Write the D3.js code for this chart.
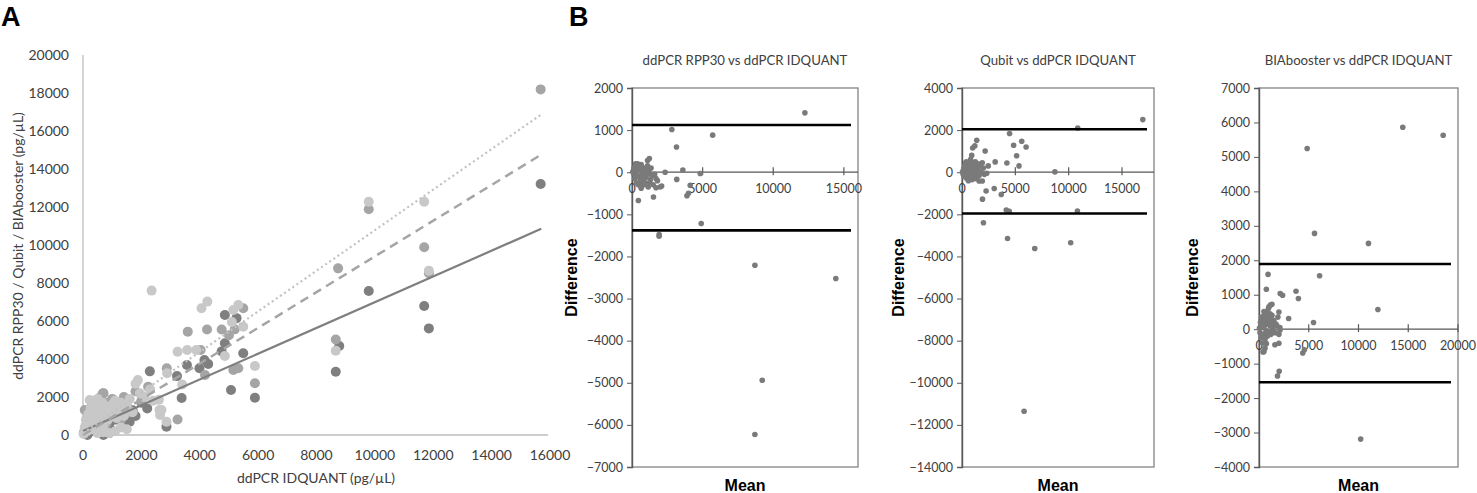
<!DOCTYPE html>
<html>
<head>
<meta charset="utf-8">
<script src="https://cdn.jsdelivr.net/npm/d3@7"></script>
<style>
  body { margin: 0; background: #fff; }
  svg { display: block; }
  .tick-lbl { font-family: Lato, "Open Sans", sans-serif; fill: #404040; }
</style>
</head>
<body>
<svg id="chart" width="1477" height="493"></svg>
<script>
// ---- Panel A data: [ddPCR IDQUANT, other method] (pg/uL) ----
const rpp30Pts = [
  [30,100],[80,300],[120,50],[180,400],[220,150],[280,600],[350,250],[400,800],[450,300],[500,1000],
  [550,500],[600,200],[650,1200],[700,700],[750,400],[800,1500],[850,900],[900,600],[950,300],[1000,1100],
  [1100,800],[1200,1400],[1300,900],[1400,500],[1500,1200],[1600,700],[1700,1300],[1800,1000],[2000,1700],
  [2200,1400],[690,2190],[200,1200],[400,1400],[600,1700],[150,0],[700,0],[900,100],
  [2290,3350],[3220,3100],[3380,1950],[2860,440],[3560,3680],[4160,3950],[4290,3740],[3990,3510],
  [4750,4400],[4860,4830],[5260,6150],[5490,4300],[5070,2370],[5890,1960],[4860,6320],
  [9790,7580],[11690,6790],[11850,5610],[8780,4680],[8660,3330],[15680,13210]
];
const qubitPts = [
  [50,200],[100,500],[150,900],[200,1300],[250,300],[300,1500],[350,700],[400,1000],[450,1800],[500,400],
  [550,1200],[600,2000],[650,800],[700,2200],[750,1400],[800,600],[850,1700],[900,1000],[1000,1900],
  [1100,1300],[1200,1600],[1300,800],[1400,2000],[1500,1500],[1600,1200],[1800,2300],[2000,1800],
  [2230,2540],[60,1320],[3240,820],[2870,3510],
  [4030,4470],[4180,3160],[5150,3420],[5320,3510],[5890,2720],[3590,5440],[4250,5550],[4750,5550],
  [5200,5560],[5000,5250],[5490,6670],[8740,8770],[8660,5030],[9790,11880],[11690,9880],[11850,8510],
  [15680,18190]
];
const biaPts = [
  [20,50],[60,400],[100,800],[140,200],[180,1100],[220,600],[230,1840],[260,1400],[300,300],[340,900],
  [380,1600],[420,500],[460,1200],[500,1900],[540,700],[580,1300],[620,1000],[660,1700],[700,500],
  [750,1100],[800,1500],[850,800],[900,1300],[950,1000],[1000,1600],[1050,1200],[1100,1800],[1150,900],
  [1200,1500],[1250,1100],[1300,1700],[1350,1300],[1400,1000],[1500,1600],[1600,1900],[1700,1200],
  [1800,2700],[1880,2890],[1950,2200],[2100,2000],[2300,2400],[2400,1800],[2600,1850],[2620,1320],
  [2640,1050],[2690,1320],[2860,700],[2880,3250],[3400,2660],[1500,300],[1300,400],[1100,200],
  [900,100],[700,150],[500,100],
  [2350,7600],[4060,6670],[4260,7020],[5320,6840],[5150,6580],[5100,5950],[5490,5700],[3240,4380],
  [3570,4470],[3880,4470],[4860,4160],[5890,3630],[8660,4440],[9790,12280],[11690,12280],[11850,8650]
];
// linear trend lines: [slope, intercept, xStart, xEnd]
const trendRpp30 = [0.678, 210, 0, 15700];
const trendQubit = [0.94, 0, 0, 15700];
const trendBia = [1.068, 100, 0, 15700];
const aTicksX = [0, 2000, 4000, 6000, 8000, 10000, 12000, 14000, 16000];
const aTicksY = [0, 2000, 4000, 6000, 8000, 10000, 12000, 14000, 16000, 18000, 20000];

// ---- Panel B data: Bland-Altman [mean, difference] ----
const baRpp30 = [
  [50,10],[120,-20],[200,30],[250,-50],[300,80],[350,150],[400,200],[450,120],[500,-100],[550,60],
  [600,-200],[650,180],[700,-50],[750,-300],[800,100],[850,-150],[900,40],[950,-250],[1000,-120],
  [1050,90],[1100,-30],[1150,-350],[1200,20],[1300,-180],[1350,100],[1400,-80],[1500,-300],[1600,-50],
  [1700,-150],[1800,-200],[200,-150],[300,-250],[400,-100],[500,150],[600,50],[700,120],[800,-180],
  [900,-60],[1000,60],[1100,150],[150,100],[250,200],[350,-80],[450,-300],[650,-380],[850,-300],
  [1250,-250],[1230,325],[1100,280],[1700,-370],[1990,-350],[2100,-330],
  [12240,1410],[2820,1015],[5710,880],[3150,600],[3600,50],[2345,0],[4830,-30],[3170,-170],
  [4120,-310],[3890,-560],[4000,-500],[1520,-590],[450,-670],[4900,-1220],[1920,-1480],[1920,-1520],
  [8700,-2210],[14430,-2525],[9220,-4940],[8700,-6230]
];
const baQubit = [
  [50,20],[100,-80],[150,150],[200,-200],[250,300],[300,-100],[350,450],[400,100],[450,-300],[500,250],
  [550,-150],[600,400],[650,50],[700,-250],[750,350],[800,-50],[850,500],[900,200],[950,-350],[1000,300],
  [1050,-200],[1100,450],[1150,100],[1200,-100],[1250,500],[1300,250],[1350,-300],[1400,350],[1500,100],
  [1600,-150],[1700,300],[1800,0],[1900,450],[2000,200],[2100,-100],[300,250],[500,-50],[700,150],
  [900,-200],[1100,-50],[1300,50],[1500,400],[1600,-420],[1900,-420],[400,500],[600,-400],[800,600],
  [1200,-300],[2170,1010],[910,800],[1000,1150],[1200,1250],[1380,1520],[2460,300],[2320,-50],
  [16950,2500],[10850,2100],[4460,1840],[5600,1470],[4840,1280],[6010,1200],[5120,780],[3110,490],
  [4210,440],[5340,300],[8710,15],[2260,-890],[3020,-775],[3680,-1060],[1920,-1280],[4150,-1800],
  [4430,-1850],[10820,-1840],[2010,-2400],[4270,-3150],[10190,-3350],[6820,-3620],[5820,-11350]
];
const baBia = [
  [50,30],[100,-100],[150,200],[200,-250],[250,350],[300,50],[350,-400],[400,250],[450,-150],[500,400],
  [550,100],[600,-300],[650,300],[700,-50],[750,500],[800,150],[850,-200],[900,350],[950,600],[1000,200],
  [1050,-100],[1100,450],[1150,300],[1200,-150],[1250,150],[1300,400],[1400,50],[1500,250],[1600,-100],
  [1700,150],[1800,100],[1900,350],[2000,-150],[2100,50],[300,-200],[500,150],[700,250],[900,-100],
  [1100,100],[1300,-50],[1000,650],[1300,720],[1150,700],[600,-550],[500,-650],
  [4840,5245],[14450,5860],[18510,5630],[5580,2780],[11000,2490],[6090,1550],[910,1590],[740,1160],
  [3720,1100],[3960,890],[2130,1035],[2370,985],[2000,500],[2980,310],[5480,195],[11950,570],[500,510],
  [2100,-30],[2000,-410],[1600,-450],[4400,-690],[4560,-600],[400,-660],[740,-420],[2030,-1220],
  [1860,-1360],[10220,-3190]
];
const baTitles = ["ddPCR RPP30 vs ddPCR IDQUANT", "Qubit vs ddPCR IDQUANT", "BIAbooster vs ddPCR IDQUANT"];
const baLimits = [[1120, -1380], [2040, -1960], [1890, -1540]];
const baYDomains = [[-7000, 2000], [-14000, 4000], [-4000, 7000]];
const baYSteps = [1000, 2000, 1000];
const baXDomains = [[0, 16000], [0, 18000], [0, 20000]];
const baXTicks = [[0, 5000, 10000, 15000], [0, 5000, 10000, 15000], [0, 5000, 10000, 15000, 20000]];

const svg = d3.select('#chart');

// ===================== Panel A =====================
svg.append('text').attr('x', 1).attr('y', 26)
  .style('font-family', '"Liberation Sans", Arial, sans-serif')
  .style('font-weight', 'bold').style('font-size', '27px').text('A');

const ax = d3.scaleLinear().domain([0, 16000]).range([83, 550]);
const ay = d3.scaleLinear().domain([0, 20000]).range([435, 55]);

const gA = svg.append('g');
// axes lines
gA.append('line').attr('x1', ax(0)).attr('x2', ax(0)).attr('y1', ay(20000)).attr('y2', ay(0))
  .attr('stroke', '#bdbdbd').attr('stroke-width', 1.3);
gA.append('line').attr('x1', ax(0)).attr('x2', ax(16000) - 2).attr('y1', ay(0)).attr('y2', ay(0))
  .attr('stroke', '#bdbdbd').attr('stroke-width', 1.3);

gA.selectAll('.ayl').data(aTicksY).enter().append('text')
  .attr('class', 'tick-lbl').attr('x', 69).attr('y', d => ay(d) + 5)
  .attr('text-anchor', 'end').style('font-size', '14px').text(d => d);
gA.selectAll('.axl').data(aTicksX).enter().append('text')
  .attr('class', 'tick-lbl').attr('x', d => ax(d)).attr('y', 460)
  .attr('text-anchor', 'middle').style('font-size', '14px').text(d => d);

gA.append('text').attr('class', 'tick-lbl')
  .attr('x', 316).attr('y', 483).attr('text-anchor', 'middle')
  .style('font-size', '14px').text('ddPCR IDQUANT (pg/µL)');
gA.append('text').attr('class', 'tick-lbl')
  .attr('transform', 'translate(23,246) rotate(-90)').attr('text-anchor', 'middle')
  .style('font-size', '14px').text('ddPCR RPP30 / Qubit / BIAbooster (pg/µL)');

const seriesA = [
  { pts: rpp30Pts, color: '#7f7f7f' },
  { pts: qubitPts, color: '#a5a5a5' },
  { pts: biaPts, color: '#c8c8c8' }
];
seriesA.forEach(s => {
  gA.append('g').selectAll('circle').data(s.pts).enter().append('circle')
    .attr('cx', d => ax(d[0])).attr('cy', d => ay(d[1])).attr('r', 5)
    .attr('fill', s.color);
});

const trends = [
  { t: trendRpp30, color: '#7f7f7f', dash: null, w: 2.2 },
  { t: trendQubit, color: '#a5a5a5', dash: '9,6', w: 2.5 },
  { t: trendBia, color: '#c2c2c2', dash: '2,3', w: 2.2 }
];
trends.forEach(tr => {
  const [m, b, x0, x1] = tr.t;
  const l = gA.append('line')
    .attr('x1', ax(x0)).attr('y1', ay(m * x0 + b))
    .attr('x2', ax(x1)).attr('y2', ay(m * x1 + b))
    .attr('stroke', tr.color).attr('stroke-width', tr.w);
  if (tr.dash) l.attr('stroke-dasharray', tr.dash);
});

// ===================== Panel B =====================
svg.append('text').attr('x', 569).attr('y', 26)
  .style('font-family', '"Liberation Sans", Arial, sans-serif')
  .style('font-weight', 'bold').style('font-size', '27px').text('B');

const baBoxes = [
  { left: 632, right: 858, diffX: 577 },
  { left: 962, right: 1154, diffX: 904 },
  { left: 1259, right: 1458, diffX: 1198 }
];
const baData = [baRpp30, baQubit, baBia];
const plotTop = 88, plotBottom = 467;

baBoxes.forEach((box, i) => {
  const g = svg.append('g');
  const x = d3.scaleLinear().domain(baXDomains[i]).range([box.left, box.right]);
  const y = d3.scaleLinear().domain(baYDomains[i]).range([plotBottom, plotTop]);

  // plot border
  g.append('rect').attr('x', box.left).attr('y', plotTop)
    .attr('width', box.right - box.left).attr('height', plotBottom - plotTop)
    .attr('fill', 'none').attr('stroke', '#8c8c8c').attr('stroke-width', 1.4);

  // y axis
  const yTicks = d3.range(baYDomains[i][0], baYDomains[i][1] + 1, baYSteps[i]);
  g.append('g').attr('transform', `translate(${box.left},0)`)
    .call(d3.axisLeft(y).tickValues(yTicks).tickSize(5).tickPadding(4).tickFormat(d3.format('d')))
    .call(a => a.select('.domain').attr('stroke', '#595959').attr('stroke-width', 1.4))
    .call(a => a.selectAll('.tick line').attr('stroke', '#595959'))
    .call(a => a.selectAll('.tick text').attr('class', 'tick-lbl')
      .style('font-size', '12.5px').attr('fill', '#404040'));

  // x axis at zero
  const y0 = y(0);
  g.append('line').attr('x1', box.left).attr('x2', box.right).attr('y1', y0).attr('y2', y0)
    .attr('stroke', '#595959').attr('stroke-width', 1.2);
  g.selectAll('.xt').data(baXTicks[i]).enter().append('line')
    .attr('x1', d => x(d)).attr('x2', d => x(d)).attr('y1', y0 - 5).attr('y2', y0 + 3)
    .attr('stroke', '#595959').attr('stroke-width', 1.2);
  g.selectAll('.xl').data(baXTicks[i]).enter().append('text')
    .attr('class', 'tick-lbl').attr('x', d => x(d)).attr('y', y0 + 21)
    .attr('text-anchor', 'middle').style('font-size', '12.5px').text(d => d);

  // points
  g.append('g').selectAll('circle').data(baData[i]).enter().append('circle')
    .attr('cx', d => x(d[0])).attr('cy', d => y(d[1])).attr('r', 2.8)
    .attr('fill', '#7a7a7a');

  // limits of agreement
  baLimits[i].forEach(v => {
    g.append('line').attr('x1', box.left).attr('x2', box.right - 7)
      .attr('y1', y(v)).attr('y2', y(v))
      .attr('stroke', '#000').attr('stroke-width', 2.6);
  });

  // title
  g.append('text').attr('class', 'tick-lbl')
    .attr('x', (box.left + box.right) / 2 + 0).attr('y', 65)
    .attr('text-anchor', 'middle').style('font-size', '13.2px').text(baTitles[i]);

  // axis titles
  g.append('text').attr('x', (box.left + box.right) / 2).attr('y', 491)
    .attr('text-anchor', 'middle')
    .style('font-family', '"Liberation Sans", Arial, sans-serif')
    .style('font-weight', 'bold').style('font-size', '16px').attr('fill', '#000').text('Mean');
  g.append('text')
    .attr('transform', `translate(${box.diffX},${(plotTop + plotBottom) / 2}) rotate(-90)`)
    .attr('text-anchor', 'middle')
    .style('font-family', '"Liberation Sans", Arial, sans-serif')
    .style('font-weight', 'bold').style('font-size', '16px').attr('fill', '#000').text('Difference');
});
</script>
</body>
</html>
